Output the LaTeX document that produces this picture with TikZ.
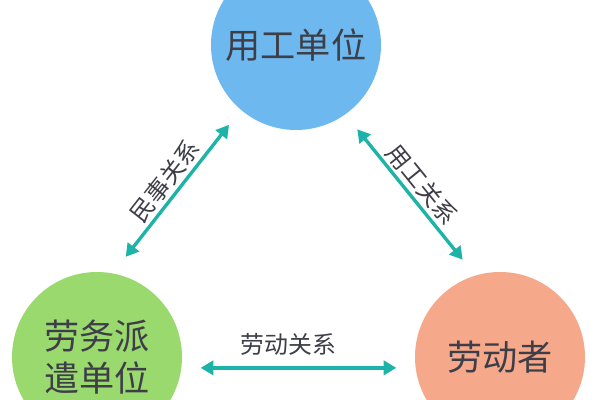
\documentclass[tikz,border=0pt]{standalone}
\usepackage{fontspec}
\usepackage{tikz}
\usetikzlibrary{arrows.meta}
\newfontfamily\cjk{Noto Sans CJK SC}
\definecolor{unitblue}{HTML}{6DB8EE}
\definecolor{dispgreen}{HTML}{9AD96E}
\definecolor{workred}{HTML}{F5A88A}
\definecolor{relteal}{HTML}{1DB3A8}
\definecolor{txtgray}{HTML}{3E3E48}
\begin{document}
\begin{tikzpicture}[
		party/.style = {circle, minimum size = 4.25cm, inner sep = 0pt, outer sep = 0.48cm,
			text = txtgray, font = \cjk\fontsize{25}{30}\selectfont, align = center},
		relation/.style = {{Triangle[length=9pt,width=10pt]}-{Triangle[length=9pt,width=10pt]}, line width = 2.4pt, draw = relteal},
		rellabel/.style = {text = txtgray, font = \cjk\fontsize{17}{20}\selectfont, inner sep = 2pt}
	]
		\useasboundingbox (0,0) rectangle (15,10);
		\clip (0,0) rectangle (15,10);
		\fill[white] (0,0) rectangle (15,10);
		\node[party, fill = unitblue] (user) at (7.4,8.875) {用工单位};
		\node[party, fill = dispgreen] (dispatch) at (2.425,1.075) {劳务派\\遣单位};
		\node[party, fill = workred] (worker) at (12.5,1.075) {劳动者};
		\draw[relation] (dispatch.74) -- (user.230) node[midway, sloped, above, rellabel] {民事关系};
		\draw[relation] (user.306) -- (worker.111) node[midway, sloped, above, rellabel] {用工关系};
		\draw[relation] (dispatch.-6) -- (worker.186) node[pos = 0.45, above = 6pt, rellabel] {劳动关系};
	\end{tikzpicture}
\end{document}
